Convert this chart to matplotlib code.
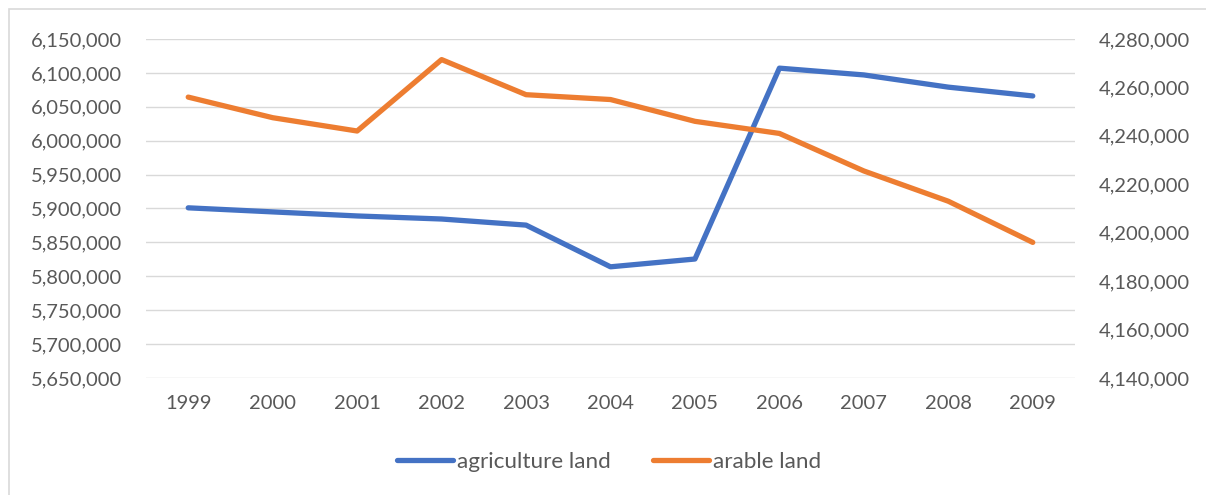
import matplotlib.pyplot as plt
from matplotlib.ticker import FuncFormatter, MultipleLocator
from matplotlib.patches import Rectangle

years = ["1999", "2000", "2001", "2002", "2003", "2004", "2005", "2006", "2007", "2008", "2009"]
agriculture = [5901000, 5895000, 5889000, 5884500, 5875500, 5814000, 5825500, 6107000, 6097000, 6079000, 6066000]
arable = [4256000, 4247500, 4242000, 4271500, 4257000, 4255000, 4246000, 4241000, 4225500, 4213000, 4196000]

blue = "#4472C4"
orange = "#ED7D31"
txt = "#595959"

plt.rcParams['font.family'] = ['Lato', 'DejaVu Sans']

fig = plt.figure(figsize=(12.06, 4.95), dpi=100)
ax = fig.add_axes([146 / 1206, 1 - 378 / 495, (1075 - 146) / 1206, (378 - 39) / 495])
ax2 = ax.twinx()

x = list(range(len(years)))
l1, = ax.plot(x, agriculture, color=blue, lw=3.8, solid_capstyle='round', solid_joinstyle='round',
              label="agriculture land", zorder=3)
l2, = ax2.plot(x, arable, color=orange, lw=3.8, solid_capstyle='round', solid_joinstyle='round',
               label="arable land", zorder=3)

ax.set_xlim(-0.5, len(years) - 0.5)
ax.set_ylim(5650000, 6150000)
ax2.set_ylim(4140000, 4280000)
ax.yaxis.set_major_locator(MultipleLocator(50000))
ax2.yaxis.set_major_locator(MultipleLocator(20000))
fmt = FuncFormatter(lambda v, p: f"{int(round(v)):,}")
ax.yaxis.set_major_formatter(fmt)
ax2.yaxis.set_major_formatter(fmt)
ax.set_xticks(x)
ax.set_xticklabels(years)

ax.grid(axis='y', color="#D9D9D9", lw=1)
ax.set_axisbelow(True)
for a in (ax, ax2):
    for s in a.spines.values():
        s.set_visible(False)
    a.tick_params(length=0, labelsize=14.5, labelcolor=txt)
ax.tick_params(axis='y', pad=17)
ax2.tick_params(axis='y', pad=17)
ax.tick_params(axis='x', pad=12)

fig.patches.append(Rectangle((9 / 1206, -0.1), 1.2, 1 - 9 / 495 + 0.1, transform=fig.transFigure,
                             fill=False, edgecolor="#D9D9D9", lw=1.2))

leg = fig.legend(handles=[l1, l2], loc='center', bbox_to_anchor=(0.505, 1 - 462 / 495), ncol=2,
                 frameon=False, fontsize=16.2, handlelength=2.5, handletextpad=0.15, columnspacing=1.9)
for t in leg.get_texts():
    t.set_color(txt)

fig.savefig("out.png", dpi=100)
